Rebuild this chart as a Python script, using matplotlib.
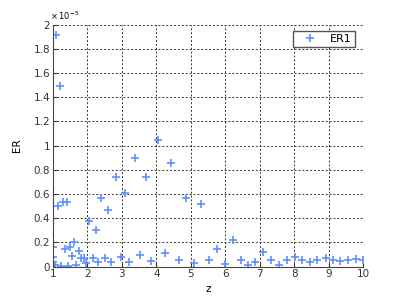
import numpy as np
import matplotlib
matplotlib.use('Agg')
import matplotlib.pyplot as plt

# ER values in units of 1e-5
z = [1.00, 1.02, 1.01, 1.06, 1.10, 1.14, 1.21, 1.24, 1.29, 1.34, 1.41, 1.44,
     1.51, 1.56, 1.62, 1.68, 1.75, 1.82, 1.90, 1.96, 2.06, 2.16, 2.24, 2.31,
     2.41, 2.51, 2.61, 2.70, 2.84, 2.97, 3.09, 3.21, 3.38, 3.52, 3.69, 3.84,
     4.04, 4.24, 4.44, 4.65, 4.86, 5.09, 5.31, 5.54, 5.77, 6.00, 6.23, 6.45,
     6.67, 6.87, 7.10, 7.34, 7.56, 7.78, 8.01, 8.23, 8.46, 8.67, 8.91, 9.13,
     9.34, 9.57, 9.78, 10.00]
er = [0.16, 0.077, 0.035, 0.012, 1.91, 0.50, 1.49, 0.005, 0.537, 0.15, 0.537, 0.005,
      0.165, 0.09, 0.207, 0.016, 0.13, 0.074, 0.07, 0.028, 0.38, 0.07, 0.30, 0.035,
      0.565, 0.07, 0.47, 0.04, 0.74, 0.077, 0.61, 0.04, 0.895, 0.096, 0.74, 0.05,
      1.047, 0.116, 0.855, 0.055, 0.57, 0.033, 0.518, 0.055, 0.15, 0.022, 0.22, 0.055,
      0.014, 0.04, 0.118, 0.055, 0.017, 0.052, 0.083, 0.055, 0.036, 0.055, 0.07, 0.055,
      0.05, 0.055, 0.063, 0.055]

xticks = [1, 2, 3, 4, 5, 6, 7, 8, 9, 10]
yticks = [0, 0.2, 0.4, 0.6, 0.8, 1, 1.2, 1.4, 1.6, 1.8, 2]

fig = plt.figure(figsize=(4, 3), dpi=100)
ax = fig.add_axes([0.132, 0.111, 0.776, 0.807])
ax.plot(z, er, linestyle='none', marker='+', markersize=5.5, color='#5f8fff',
        markeredgewidth=1.2, label='ER1')
ax.set_xlim(1, 10)
ax.set_ylim(0, 2)
ax.set_xticks(xticks)
ax.set_xticklabels([str(t) for t in xticks])
ax.set_yticks(yticks)
ax.set_yticklabels(['%g' % t for t in yticks])
ax.tick_params(direction='in', labelsize=7.5, length=3, colors='#333333', pad=2)
ax.grid(True, linestyle=(0, (2, 2)), color='#333333', linewidth=0.7)
ax.spines['top'].set_visible(False)
ax.spines['right'].set_visible(False)
for s in ['left', 'bottom']:
    ax.spines[s].set_color('#444444')
ax.set_xlabel('z', fontsize=7.5, labelpad=3)
ax.set_ylabel('ER', fontsize=7.5, labelpad=8)
ax.text(-0.01, 1.01, r'$\times\,10^{-5}$', transform=ax.transAxes, fontsize=6,
        ha='left', va='bottom')
leg = ax.legend(loc='upper right', fontsize=8, fancybox=False, framealpha=1,
                edgecolor='#555555', handlelength=2.6, borderpad=0.25,
                handletextpad=0.5, bbox_to_anchor=(0.99, 0.995))
leg.get_frame().set_linewidth(1.0)
fig.savefig('out.png', dpi=100)
